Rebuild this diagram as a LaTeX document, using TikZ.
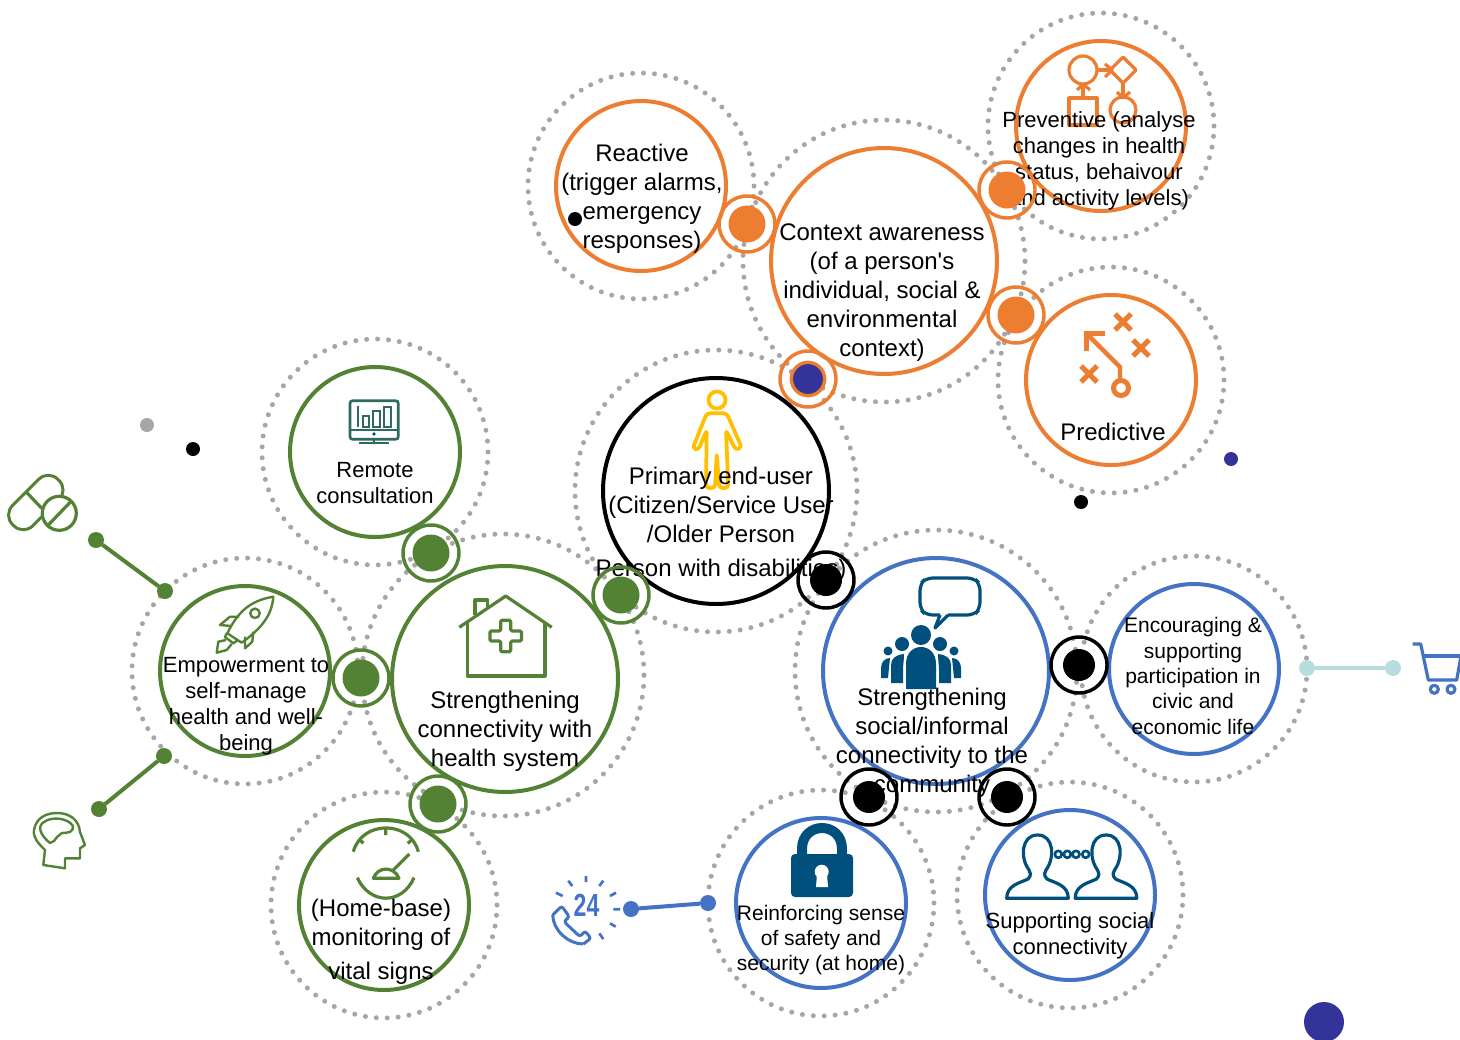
\documentclass[tikz,border=0pt]{standalone}
\usepackage{fontspec}
\setmainfont{Liberation Sans}[Ligatures=TeXOff]
\definecolor{orangeline}{HTML}{ED7D31}
\definecolor{greenline}{HTML}{548235}
\definecolor{blueline}{HTML}{4472C4}
\definecolor{deepblue}{HTML}{004F7C}
\definecolor{navydot}{HTML}{333399}
\definecolor{tealdot}{HTML}{B7DDE0}
\definecolor{halogrey}{HTML}{A6A6A6}
\definecolor{goldline}{HTML}{FFC000}
\definecolor{monitorline}{HTML}{2E6B5E}
\tikzset{
  halo/.style={circle,draw=halogrey,line width=3.75pt,line cap=round,dash pattern=on 0pt off 8.2pt,inner sep=0pt,outer sep=0pt,minimum size=#1},
  sathalo/.style={halo=169.5pt},
  hubhalo/.style={halo=211.5pt},
  sat/.style={circle,draw=#1,fill=white,line width=3pt,inner sep=0pt,outer sep=0pt,minimum size=127.5pt},
  hub/.style={circle,draw=#1,fill=white,line width=3pt,inner sep=0pt,outer sep=0pt,minimum size=169.5pt},
  ring/.style={circle,draw=#1,line width=2.6pt,inner sep=0pt,outer sep=0pt,minimum size=42pt},
  core/.style={circle,fill=#1,inner sep=0pt,outer sep=0pt,minimum size=27.75pt},
  blackcore/.style={circle,fill=black,inner sep=0pt,outer sep=0pt,minimum size=24pt},
  pindot/.style={circle,fill=#1,inner sep=0pt,outer sep=0pt,minimum size=12pt},
  spot/.style={circle,fill=#1,inner sep=0pt,outer sep=0pt,minimum size=10.5pt},
  bigtext/.style={font=\fontsize{18}{21.75}\selectfont,align=center,inner sep=0pt},
  midtext/.style={font=\fontsize{16.5}{19.6}\selectfont,align=center,inner sep=0pt},
  smalltext/.style={font=\fontsize{15.75}{19}\selectfont,align=center,inner sep=0pt},
  icon/.style={draw=#1,line width=2.4pt,line join=round},
  thinicon/.style={draw=#1,line width=1.8pt,line join=round},
  friend/.pic={
    \draw [icon=deepblue,fill=white] (1006.7,898.3) .. controls (1006.7,885) and (1020,883) .. (1028,879)
      .. controls (1032,875) and (1030,872) .. (1029,870) .. controls (1020,858) and (1021,835) .. (1037.7,835)
      .. controls (1054,835) and (1055,858) .. (1046,870) .. controls (1045,872) and (1043,875) .. (1047,879)
      .. controls (1055,883) and (1068.3,885) .. (1068.3,898.3) -- cycle;
  }
}
\begin{document}
\begin{tikzpicture}[x=0.75pt,y=-0.75pt]
  \path [use as bounding box,clip] (0,0) rectangle (1460,1039);

  % dotted rings behind everything
  \node (reacthalo)   [sathalo] at (641,186)  {};
  \node (ctxhalo)     [hubhalo] at (884,261)  {};
  \node (prevhalo)    [sathalo] at (1101,126) {};
  \node (predhalo)    [sathalo] at (1111,380) {};
  \node (userhalo)    [hubhalo] at (716,491)  {};
  \node (socialhalo)  [hubhalo] at (936,671)  {};
  \node (civichalo)   [sathalo] at (1194,669) {};
  \node (safehalo)    [sathalo] at (821,903)  {};
  \node (friendhalo)  [sathalo] at (1070,895) {};
  \node (healthhalo)  [hubhalo] at (503,675)  {};
  \node (powerhalo)   [sathalo] at (245,671)  {};
  \node (remotehalo)  [sathalo] at (375,452)  {};
  \node (homehalo)    [sathalo] at (384,905)  {};

  % main circles
  \node (react)  [sat=orangeline] at (641,186)  {};
  \node (ctx)    [hub=orangeline] at (884,261)  {};
  \node (prev)   [sat=orangeline] at (1101,126) {};
  \node (pred)   [sat=orangeline] at (1111,380) {};
  \node (user)   [hub=black]      at (716,491)  {};
  \node (social) [hub=blueline]   at (936,671)  {};
  \node (civic)  [sat=blueline]   at (1194,669) {};
  \node (safe)   [sat=blueline]   at (821,903)  {};
  \node (friends)[sat=blueline]   at (1070,895) {};
  \node (health) [hub=greenline]  at (505,679)  {};
  \node (power)  [sat=greenline]  at (245,671)  {};
  \node (remote) [sat=greenline]  at (375,452)  {};
  \node (home)   [sat=greenline]  at (384,905)  {};

  % loose dots
  \node (greyspot)   [spot=halogrey] at (147,425)  {};
  \node (blackspota) [spot=black]    at (193,449)  {};
  \node (blackspotb) [spot=black]    at (575,219)  {};
  \node (blackspotc) [spot=black]    at (1081,502) {};
  \node (navyspot)   [spot=navydot]  at (1231,459) {};
  \node (navybig)    [circle,fill=navydot,inner sep=0pt,minimum size=30pt] at (1324,1022) {};

  % pins
  \node (pinpilla) [pindot=greenline] at (96,540)   {};
  \node (pinpillb) [pindot=greenline] at (165,591)  {};
  \node (pinheada) [pindot=greenline] at (164,756)  {};
  \node (pinheadb) [pindot=greenline] at (99,809)   {};
  \node (pinphonea)[pindot=blueline]  at (631,909)  {};
  \node (pinphoneb)[pindot=blueline]  at (708,903)  {};
  \node (pincarta) [pindot=tealdot]   at (1307,668) {};
  \node (pincartb) [pindot=tealdot]   at (1393,668) {};
  \draw [greenline,line width=3pt] (pinpilla) to (pinpillb);
  \draw [greenline,line width=3pt] (pinheada) to (pinheadb);
  \draw [blueline,line width=3pt]  (pinphonea) to (pinphoneb);
  \draw [tealdot,line width=3pt]   (pincarta) to (pincartb);

  % preventive icon
  \draw [icon=orangeline] (1083,70) circle (14);
  \draw [icon=orangeline] (1069,98) rectangle (1097,125);
  \draw [icon=orangeline] (1083,98) -- (1083,84);
  \draw [icon=orangeline] (1077,90) -- (1083,84) -- (1090,90);
  \draw [icon=orangeline] (1097,70) -- (1112,70);
  \draw [icon=orangeline] (1105,64) -- (1112,70) -- (1105,77);
  \draw [icon=orangeline] (1123,57) -- (1136,70) -- (1123,83) -- (1110,70) -- cycle;
  \draw [icon=orangeline] (1123,83) -- (1123,98);
  \draw [icon=orangeline] (1117,92) -- (1123,98) -- (1130,92);
  \draw [icon=orangeline] (1123,110) circle (13);

  % predictive icon
  \draw [orangeline,line width=3.75pt] (1115,314) -- (1131,330) (1115,330) -- (1131,314);
  \draw [orangeline,line width=3.75pt] (1133,340) -- (1149,356) (1133,356) -- (1149,340);
  \draw [orangeline,line width=3.75pt] (1081,366) -- (1097,382) (1081,382) -- (1097,366);
  \draw [orangeline,line width=3.75pt] (1105,333) -- (1086,333) -- (1086,351);
  \draw [orangeline,line width=3.25pt] (1087,334) -- (1120,367) -- (1120,380);
  \draw [orangeline,line width=3.75pt] (1121,388) circle (7.5);

  % person icon
  \draw [goldline,line width=2.8pt] (717,400) circle (8.5);
  \draw [goldline,line width=2.8pt,line join=round,rounded corners=2.5pt] (706.7,413.3) -- (692.7,448.3) -- (698.3,450) -- (706.7,430)
    -- (706,488) -- (715,488) -- (716.7,453.3) -- (719.3,488) -- (728.3,488) -- (726,430) -- (735.7,450)
    -- (741.7,447.3) -- (726.7,413.3) -- cycle;

  % group icon
  \draw [deepblue,line width=2.4pt,rounded corners=5pt,fill=white] (940,615) -- (926,615) -- (920,609) -- (920,584)
    -- (926,578) -- (974,578) -- (980,584) -- (980,609) -- (974,615) -- (948,615);
  \draw [deepblue,line width=2.4pt,line join=round] (940,615) -- (935,628) -- (948,615);
  \fill [deepblue] (921,635) circle (10);
  \fill [deepblue] (902,644) circle (7) (940,644) circle (7);
  \fill [deepblue] (888,651) circle (4.5) (954,651) circle (4.5);
  \fill [deepblue] (891,683) -- (891,665) .. controls (891,658) and (896,655) .. (904,654) .. controls (904,660) and (903,665) .. (903,670) -- (903,683) -- cycle;
  \fill [deepblue] (951,683) -- (951,665) .. controls (951,658) and (946,655) .. (938,654) .. controls (938,660) and (939,665) .. (939,670) -- (939,683) -- cycle;
  \fill [deepblue] (881,678) -- (881,668) .. controls (881,662) and (885,658) .. (890,658) -- (888,678) -- cycle;
  \fill [deepblue] (961,678) -- (961,668) .. controls (961,662) and (957,658) .. (952,658) -- (954,678) -- cycle;
  \fill [deepblue] (906,689) -- (906,664) .. controls (906,652) and (914,647) .. (921,647) .. controls (928,647) and (936,652) .. (936,664) -- (936,689) -- cycle;

  % lock icon
  \draw [deepblue,line width=7.5pt] (802,856) -- (802,849) .. controls (802,821) and (842,821) .. (842,849) -- (842,856);
  \fill [deepblue,rounded corners=3pt] (791,854) rectangle (853,897);
  \fill [white] (821.7,871.7) circle (7);
  \fill [white] (817,874) -- (827,874) -- (828,887) -- (816,887) -- cycle;

  % friends icon
  \draw [icon=deepblue,line width=2pt] (1058.3,854.3) circle (3.5) (1067.3,854.3) circle (3.5) (1076,854.3) circle (3.5) (1085.7,854.3) circle (3.5);
  \pic at (0,0) {friend};
  \pic at (68.5,0) {friend};

  % phone icon
  \node (hours) [font=\fontsize{24}{24}\selectfont\bfseries,text=blueline,xscale=.72,inner sep=0pt] at (586.5,905.5) {24};
  \draw [blueline,line width=2pt] (586,876) -- (586,882) (568.3,880.7) -- (572.3,886) (603.3,880.7) -- (599.3,886)
    (556,892.7) -- (562.7,896) (616,892.7) -- (610,896) (613.3,909.3) -- (620,909.3)
    (610,923.3) -- (615.7,926.7) (599.3,933.3) -- (603.3,939);
  \draw [blueline,line width=2.25pt,rounded corners=2pt] (552.7,915) -- (561.7,906) -- (569.3,916.7) -- (564,921.7)
    -- (580,936.7) -- (585,931) -- (591,938.3) -- (583.3,944);
  \draw [blueline,line width=2.25pt] (583.3,944) .. controls (568,944) and (553,930) .. (552.7,915);

  % cart icon
  \draw [icon=blueline] (1412.7,644) -- (1420.7,644) -- (1428.3,680) -- (1456.7,680) -- (1461,656);
  \draw [icon=blueline] (1423.3,656) -- (1462,656);
  \draw [icon=blueline] (1434.3,689.3) circle (4) (1451,689.3) circle (4);

  % pills icon
  \node (capsule) [draw=greenline,line width=2.25pt,rounded corners=10pt,rotate=45,outer sep=0pt,minimum width=48pt,minimum height=21.5pt,inner sep=0pt] at (35.8,502.5) {};
  \draw [icon=greenline] (26,491.7) -- (41.7,508.3);
  \draw [icon=greenline,fill=white] (59.3,513.3) circle (17);
  \draw [icon=greenline] (48.3,525) -- (70.7,501.7);

  % head icon
  \draw [thinicon=greenline] (43.3,865) -- (45,850) .. controls (38,843) and (33,838) .. (34,830) .. controls (36,818) and (46,813) .. (57,813)
    .. controls (70,813) and (79,820) .. (80,832) -- (85,845) -- (80,848.3) -- (80,858.3) -- (65,858.3) -- (65,868.3) -- cycle;
  \draw [thinicon=greenline] (50,843) .. controls (40,835) and (37,826) .. (44,822) .. controls (52,816) and (68,818) .. (73,826)
    .. controls (74,832) and (68,833) .. (62,833) -- (57,837) -- (54,841) -- cycle;

  % rocket icon
  \draw [thinicon=greenline] (227.3,633.3) .. controls (240,607) and (255,600) .. (273.3,596.7) .. controls (272,615) and (262,628) .. (241.7,642.7) -- cycle;
  \draw [thinicon=greenline] (255,613.3) circle (4.7);
  \draw [thinicon=greenline] (226.7,633.3) -- (225,637) -- (233.3,643.3) -- (238,640);
  \draw [thinicon=greenline] (231,626) -- (220,625) -- (230,616.7) -- (239,616.7);
  \draw [thinicon=greenline] (245,636.7) -- (245,648.3) -- (252.3,641.7) -- (253.3,631.7);
  \draw [thinicon=greenline] (226,640) -- (218.3,641.7) -- (216.7,652.7) -- (226.7,650) -- (231.7,644);

  % monitor icon
  \draw [monitorline,line width=2pt,rounded corners=2pt] (350,400.7) rectangle (398.3,439.3);
  \draw [monitorline,line width=1.5pt] (350,430) -- (398.3,430) (373.5,439.3) -- (373.5,442.7) (359.3,442.7) -- (389.3,442.7);
  \draw [monitorline,line width=1.5pt] (358.3,406) -- (358.3,426.7) (362.7,416) rectangle (369.3,426.7)
    (373.3,410.7) rectangle (380,426.7) (384,406.7) rectangle (390.7,426.7);
  \fill [deepblue] (374,434) circle (1.8);

  % house icon
  \draw [icon=greenline] (459.3,627.3) -- (505.7,596) -- (551.7,627.3);
  \draw [icon=greenline] (467.7,621.7) -- (467.7,676) -- (545,676) -- (545,621.7);
  \draw [icon=greenline] (475,615) -- (475,600) -- (487.7,600) -- (487.7,606.7);
  \draw [icon=greenline,rounded corners=1pt] (500.7,620.2) -- (510.7,620.2) -- (510.7,631) -- (521.5,631) -- (521.5,641) -- (510.7,641)
    -- (510.7,651.8) -- (500.7,651.8) -- (500.7,641) -- (489.9,641) -- (489.9,631) -- (500.7,631) -- cycle;

  % gauge icon
  \draw [icon=greenline] (353.3,851.7) .. controls (362,820) and (410,820) .. (418.3,851.7);
  \draw [icon=greenline] (385.7,828.3) -- (385.7,835) (360,840) -- (363.3,843.3) (411.7,840) -- (407.7,843.3);
  \draw [icon=greenline] (409.3,854) -- (392.7,870.7);
  \draw [icon=greenline] (373.3,878.3) .. controls (378,866) and (394,866) .. (399,878.3) -- cycle;
  \draw [icon=greenline] (357.3,877.7) .. controls (370,905) and (402,905) .. (414,877.7);

  % texts
  \node (reacttext)  [bigtext]   at (642,198.3){Reactive\\(trigger alarms,\\emergency\\responses)};
  \node (ctxtext)    [bigtext]   at (882,292.5){Context awareness\\(of a person's\\individual, social \&\\environmental\\context)};
  \node (prevtext)   [midtext]   at (1099,161) {Preventive (analyse\\changes in health\\status, behaivour\\and activity levels)};
  \node (predtext)   [bigtext]   at (1113,432) {Predictive};
  \node (usertext)   [bigtext]   at (721,524)  {Primary end-user\\(Citizen/Service User\\/Older Person\\[3.5pt]Person with disabilities)};
  \node (socialtext) [bigtext]   at (932,743)  {Strengthening\\social/informal\\connectivity to the\\community};
  \node (civictext)  [smalltext] at (1193,676) {Encouraging \&\\supporting\\participation in\\civic and\\economic life};
  \node (safetext)   [smalltext] at (821,940)  {Reinforcing sense\\of safety and\\security (at home)};
  \node (friendtext) [midtext]   at (1070,936) {Supporting social\\connectivity};
  \node (healthtext) [bigtext]   at (505,731.5){Strengthening\\connectivity with\\health system};
  \node (powertext)  [midtext]   at (246,706.5){Empowerment to\\self-manage\\health and well-\\being};
  \node (remotetext) [midtext]   at (375,483)  {Remote\\consultation};
  \node (hometext)   [bigtext]   at (381,942)  {(Home-base)\\monitoring of\\[3.5pt]vital signs};

  % link rings on top
  \node (linkreact)  [ring=orangeline] at (747,224)  {};
  \node (linkprev)   [ring=orangeline] at (1007,190) {};
  \node (linkpred)   [ring=orangeline] at (1016,315) {};
  \node (linkctx)    [ring=orangeline] at (808,379)  {};
  \node (linkuser)   [ring=black]      at (826,580)  {};
  \node (linkcivic)  [ring=black]      at (1079,665) {};
  \node (linksafe)   [ring=black]      at (869,797)  {};
  \node (linkfriend) [ring=black]      at (1007,797) {};
  \node (linkhealth) [ring=greenline]  at (621,595)  {};
  \node (linkremote) [ring=greenline]  at (431,553)  {};
  \node (linkpower)  [ring=greenline]  at (361,678)  {};
  \node (linkhome)   [ring=greenline]  at (438,804)  {};
  \node (corereact)  [core=orangeline] at (linkreact)  {};
  \node (coreprev)   [core=orangeline] at (linkprev)   {};
  \node (corepred)   [core=orangeline] at (linkpred)   {};
  \node (corectx)    [core=navydot,draw=orangeline,line width=2.5pt,minimum size=25pt] at (linkctx) {};
  \node (coreuser)   [blackcore]       at (linkuser)   {};
  \node (corecivic)  [blackcore]       at (linkcivic)  {};
  \node (coresafe)   [blackcore]       at (linksafe)   {};
  \node (corefriend) [blackcore]       at (linkfriend) {};
  \node (corehealth) [core=greenline]  at (linkhealth) {};
  \node (coreremote) [core=greenline]  at (linkremote) {};
  \node (corepower)  [core=greenline]  at (linkpower)  {};
  \node (corehome)   [core=greenline]  at (linkhome)   {};
\end{tikzpicture}
\end{document}
